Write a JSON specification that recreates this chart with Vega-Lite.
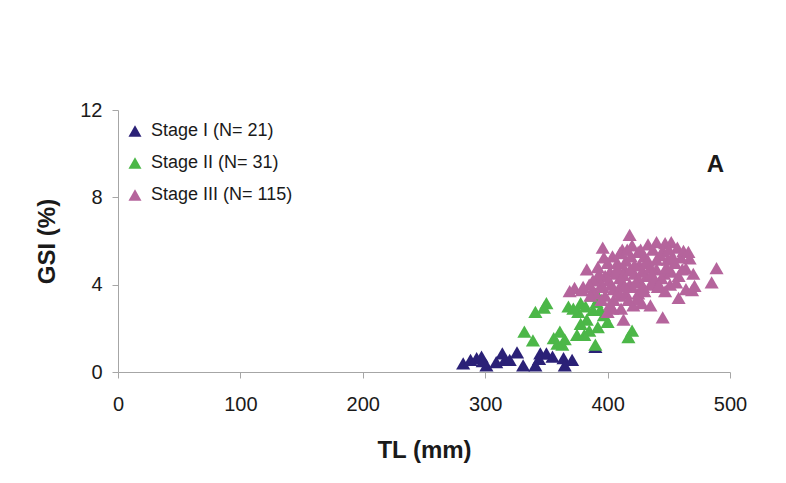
{
  "$schema": "https://vega.github.io/schema/vega-lite/v6.json",
  "autosize": "none",
  "width": 612,
  "height": 262,
  "padding": {"left": 118, "top": 110, "right": 56, "bottom": 111},
  "background": "white",
  "config": {
    "font": "Liberation Sans",
    "view": {"stroke": null},
    "axis": {
      "grid": false,
      "domainColor": "#a6a6a6",
      "tickColor": "#a6a6a6",
      "tickSize": 6,
      "labelFontSize": 20,
      "labelColor": "#1a1a1a",
      "labelFlush": false,
      "titleFontSize": 24,
      "titleFontWeight": "bold",
      "titleColor": "#1a1a1a"
    }
  },
  "datasets": {
    "pts": [
      {"stage": "Stage I (N= 21)", "tl": 282, "gsi": 0.4},
      {"stage": "Stage I (N= 21)", "tl": 288, "gsi": 0.55},
      {"stage": "Stage I (N= 21)", "tl": 293, "gsi": 0.64},
      {"stage": "Stage I (N= 21)", "tl": 297, "gsi": 0.7},
      {"stage": "Stage I (N= 21)", "tl": 301, "gsi": 0.3},
      {"stage": "Stage I (N= 21)", "tl": 298, "gsi": 0.5},
      {"stage": "Stage I (N= 21)", "tl": 314, "gsi": 0.85},
      {"stage": "Stage I (N= 21)", "tl": 316, "gsi": 0.55},
      {"stage": "Stage I (N= 21)", "tl": 320, "gsi": 0.55},
      {"stage": "Stage I (N= 21)", "tl": 326, "gsi": 0.9},
      {"stage": "Stage I (N= 21)", "tl": 331, "gsi": 0.3},
      {"stage": "Stage I (N= 21)", "tl": 341, "gsi": 0.3},
      {"stage": "Stage I (N= 21)", "tl": 345, "gsi": 0.85},
      {"stage": "Stage I (N= 21)", "tl": 350, "gsi": 0.85},
      {"stage": "Stage I (N= 21)", "tl": 355, "gsi": 0.7},
      {"stage": "Stage I (N= 21)", "tl": 364, "gsi": 0.64},
      {"stage": "Stage I (N= 21)", "tl": 365, "gsi": 0.3},
      {"stage": "Stage I (N= 21)", "tl": 371, "gsi": 0.55},
      {"stage": "Stage I (N= 21)", "tl": 390, "gsi": 1.15},
      {"stage": "Stage I (N= 21)", "tl": 344, "gsi": 0.6},
      {"stage": "Stage I (N= 21)", "tl": 309, "gsi": 0.45},
      {"stage": "Stage II (N= 31)", "tl": 350, "gsi": 3.15},
      {"stage": "Stage II (N= 31)", "tl": 348, "gsi": 2.95},
      {"stage": "Stage II (N= 31)", "tl": 341, "gsi": 2.75},
      {"stage": "Stage II (N= 31)", "tl": 332, "gsi": 1.85},
      {"stage": "Stage II (N= 31)", "tl": 339, "gsi": 1.45},
      {"stage": "Stage II (N= 31)", "tl": 361, "gsi": 1.85},
      {"stage": "Stage II (N= 31)", "tl": 356, "gsi": 1.55},
      {"stage": "Stage II (N= 31)", "tl": 363, "gsi": 1.25},
      {"stage": "Stage II (N= 31)", "tl": 368, "gsi": 3.0},
      {"stage": "Stage II (N= 31)", "tl": 378, "gsi": 3.15},
      {"stage": "Stage II (N= 31)", "tl": 376, "gsi": 2.75},
      {"stage": "Stage II (N= 31)", "tl": 383, "gsi": 2.4},
      {"stage": "Stage II (N= 31)", "tl": 388, "gsi": 2.85},
      {"stage": "Stage II (N= 31)", "tl": 375, "gsi": 1.7},
      {"stage": "Stage II (N= 31)", "tl": 381, "gsi": 1.7},
      {"stage": "Stage II (N= 31)", "tl": 392, "gsi": 2.05},
      {"stage": "Stage II (N= 31)", "tl": 400, "gsi": 2.3},
      {"stage": "Stage II (N= 31)", "tl": 420, "gsi": 1.9},
      {"stage": "Stage II (N= 31)", "tl": 417, "gsi": 1.6},
      {"stage": "Stage II (N= 31)", "tl": 390, "gsi": 1.25},
      {"stage": "Stage II (N= 31)", "tl": 391, "gsi": 3.2},
      {"stage": "Stage II (N= 31)", "tl": 388, "gsi": 3.5},
      {"stage": "Stage II (N= 31)", "tl": 393, "gsi": 3.4},
      {"stage": "Stage II (N= 31)", "tl": 372, "gsi": 2.9},
      {"stage": "Stage II (N= 31)", "tl": 378, "gsi": 2.2},
      {"stage": "Stage II (N= 31)", "tl": 365, "gsi": 1.5},
      {"stage": "Stage II (N= 31)", "tl": 385, "gsi": 1.9},
      {"stage": "Stage II (N= 31)", "tl": 397, "gsi": 2.6},
      {"stage": "Stage II (N= 31)", "tl": 382, "gsi": 3.0},
      {"stage": "Stage II (N= 31)", "tl": 359, "gsi": 1.3},
      {"stage": "Stage II (N= 31)", "tl": 394, "gsi": 2.85},
      {"stage": "Stage III (N= 115)", "tl": 418, "gsi": 6.28},
      {"stage": "Stage III (N= 115)", "tl": 396, "gsi": 5.7},
      {"stage": "Stage III (N= 115)", "tl": 489, "gsi": 4.76},
      {"stage": "Stage III (N= 115)", "tl": 485, "gsi": 4.1},
      {"stage": "Stage III (N= 115)", "tl": 445, "gsi": 2.5},
      {"stage": "Stage III (N= 115)", "tl": 413, "gsi": 2.4},
      {"stage": "Stage III (N= 115)", "tl": 458, "gsi": 3.4},
      {"stage": "Stage III (N= 115)", "tl": 469, "gsi": 3.75},
      {"stage": "Stage III (N= 115)", "tl": 464, "gsi": 3.8},
      {"stage": "Stage III (N= 115)", "tl": 471, "gsi": 3.95},
      {"stage": "Stage III (N= 115)", "tl": 470, "gsi": 4.5},
      {"stage": "Stage III (N= 115)", "tl": 467, "gsi": 5.2},
      {"stage": "Stage III (N= 115)", "tl": 464, "gsi": 4.75},
      {"stage": "Stage III (N= 115)", "tl": 451, "gsi": 4.0},
      {"stage": "Stage III (N= 115)", "tl": 433, "gsi": 5.85},
      {"stage": "Stage III (N= 115)", "tl": 440, "gsi": 5.95},
      {"stage": "Stage III (N= 115)", "tl": 447, "gsi": 5.9},
      {"stage": "Stage III (N= 115)", "tl": 452, "gsi": 5.95},
      {"stage": "Stage III (N= 115)", "tl": 457, "gsi": 5.7},
      {"stage": "Stage III (N= 115)", "tl": 460, "gsi": 5.25},
      {"stage": "Stage III (N= 115)", "tl": 443, "gsi": 5.35},
      {"stage": "Stage III (N= 115)", "tl": 449, "gsi": 5.15},
      {"stage": "Stage III (N= 115)", "tl": 455, "gsi": 5.0},
      {"stage": "Stage III (N= 115)", "tl": 435, "gsi": 4.0},
      {"stage": "Stage III (N= 115)", "tl": 425, "gsi": 3.6},
      {"stage": "Stage III (N= 115)", "tl": 428, "gsi": 3.15},
      {"stage": "Stage III (N= 115)", "tl": 435, "gsi": 3.05},
      {"stage": "Stage III (N= 115)", "tl": 421, "gsi": 3.05},
      {"stage": "Stage III (N= 115)", "tl": 404, "gsi": 2.9},
      {"stage": "Stage III (N= 115)", "tl": 400, "gsi": 2.75},
      {"stage": "Stage III (N= 115)", "tl": 383, "gsi": 4.7},
      {"stage": "Stage III (N= 115)", "tl": 373, "gsi": 3.85},
      {"stage": "Stage III (N= 115)", "tl": 379, "gsi": 3.75},
      {"stage": "Stage III (N= 115)", "tl": 369, "gsi": 3.7},
      {"stage": "Stage III (N= 115)", "tl": 388, "gsi": 3.75},
      {"stage": "Stage III (N= 115)", "tl": 392, "gsi": 4.3},
      {"stage": "Stage III (N= 115)", "tl": 412, "gsi": 5.6},
      {"stage": "Stage III (N= 115)", "tl": 425, "gsi": 5.5},
      {"stage": "Stage III (N= 115)", "tl": 430, "gsi": 5.3},
      {"stage": "Stage III (N= 115)", "tl": 437, "gsi": 5.6},
      {"stage": "Stage III (N= 115)", "tl": 462, "gsi": 5.55},
      {"stage": "Stage III (N= 115)", "tl": 445, "gsi": 5.55},
      {"stage": "Stage III (N= 115)", "tl": 426, "gsi": 4.9},
      {"stage": "Stage III (N= 115)", "tl": 440, "gsi": 4.7},
      {"stage": "Stage III (N= 115)", "tl": 446, "gsi": 4.5},
      {"stage": "Stage III (N= 115)", "tl": 452, "gsi": 4.6},
      {"stage": "Stage III (N= 115)", "tl": 458, "gsi": 4.4},
      {"stage": "Stage III (N= 115)", "tl": 432, "gsi": 4.4},
      {"stage": "Stage III (N= 115)", "tl": 438, "gsi": 4.2},
      {"stage": "Stage III (N= 115)", "tl": 444, "gsi": 4.3},
      {"stage": "Stage III (N= 115)", "tl": 418, "gsi": 4.0},
      {"stage": "Stage III (N= 115)", "tl": 422, "gsi": 4.5},
      {"stage": "Stage III (N= 115)", "tl": 415, "gsi": 5.1},
      {"stage": "Stage III (N= 115)", "tl": 408, "gsi": 5.0},
      {"stage": "Stage III (N= 115)", "tl": 402, "gsi": 4.6},
      {"stage": "Stage III (N= 115)", "tl": 398, "gsi": 4.4},
      {"stage": "Stage III (N= 115)", "tl": 395, "gsi": 4.0},
      {"stage": "Stage III (N= 115)", "tl": 390, "gsi": 3.6},
      {"stage": "Stage III (N= 115)", "tl": 398, "gsi": 3.5},
      {"stage": "Stage III (N= 115)", "tl": 405, "gsi": 3.8},
      {"stage": "Stage III (N= 115)", "tl": 410, "gsi": 4.3},
      {"stage": "Stage III (N= 115)", "tl": 414, "gsi": 4.7},
      {"stage": "Stage III (N= 115)", "tl": 419, "gsi": 5.3},
      {"stage": "Stage III (N= 115)", "tl": 422, "gsi": 4.9},
      {"stage": "Stage III (N= 115)", "tl": 428, "gsi": 4.6},
      {"stage": "Stage III (N= 115)", "tl": 431, "gsi": 5.0},
      {"stage": "Stage III (N= 115)", "tl": 435, "gsi": 4.8},
      {"stage": "Stage III (N= 115)", "tl": 405, "gsi": 3.3},
      {"stage": "Stage III (N= 115)", "tl": 410, "gsi": 3.5},
      {"stage": "Stage III (N= 115)", "tl": 415, "gsi": 3.6},
      {"stage": "Stage III (N= 115)", "tl": 420, "gsi": 3.9},
      {"stage": "Stage III (N= 115)", "tl": 426, "gsi": 4.2},
      {"stage": "Stage III (N= 115)", "tl": 412, "gsi": 4.1},
      {"stage": "Stage III (N= 115)", "tl": 407, "gsi": 4.5},
      {"stage": "Stage III (N= 115)", "tl": 401, "gsi": 4.2},
      {"stage": "Stage III (N= 115)", "tl": 396, "gsi": 3.9},
      {"stage": "Stage III (N= 115)", "tl": 393, "gsi": 4.5},
      {"stage": "Stage III (N= 115)", "tl": 388, "gsi": 4.2},
      {"stage": "Stage III (N= 115)", "tl": 385, "gsi": 4.0},
      {"stage": "Stage III (N= 115)", "tl": 400, "gsi": 5.0},
      {"stage": "Stage III (N= 115)", "tl": 404, "gsi": 5.3},
      {"stage": "Stage III (N= 115)", "tl": 410, "gsi": 5.45},
      {"stage": "Stage III (N= 115)", "tl": 416, "gsi": 5.6},
      {"stage": "Stage III (N= 115)", "tl": 420, "gsi": 5.8},
      {"stage": "Stage III (N= 115)", "tl": 427, "gsi": 5.6},
      {"stage": "Stage III (N= 115)", "tl": 433, "gsi": 5.1},
      {"stage": "Stage III (N= 115)", "tl": 440, "gsi": 5.15},
      {"stage": "Stage III (N= 115)", "tl": 448, "gsi": 4.8},
      {"stage": "Stage III (N= 115)", "tl": 453, "gsi": 5.3},
      {"stage": "Stage III (N= 115)", "tl": 441, "gsi": 3.9},
      {"stage": "Stage III (N= 115)", "tl": 447, "gsi": 3.7},
      {"stage": "Stage III (N= 115)", "tl": 430, "gsi": 3.7},
      {"stage": "Stage III (N= 115)", "tl": 424, "gsi": 3.35},
      {"stage": "Stage III (N= 115)", "tl": 417, "gsi": 3.3},
      {"stage": "Stage III (N= 115)", "tl": 411, "gsi": 2.9},
      {"stage": "Stage III (N= 115)", "tl": 402, "gsi": 3.1},
      {"stage": "Stage III (N= 115)", "tl": 395, "gsi": 3.3},
      {"stage": "Stage III (N= 115)", "tl": 386, "gsi": 3.5},
      {"stage": "Stage III (N= 115)", "tl": 380, "gsi": 3.9},
      {"stage": "Stage III (N= 115)", "tl": 392, "gsi": 4.8},
      {"stage": "Stage III (N= 115)", "tl": 397, "gsi": 5.25},
      {"stage": "Stage III (N= 115)", "tl": 408, "gsi": 4.75},
      {"stage": "Stage III (N= 115)", "tl": 413, "gsi": 4.45},
      {"stage": "Stage III (N= 115)", "tl": 418, "gsi": 4.65},
      {"stage": "Stage III (N= 115)", "tl": 423, "gsi": 4.1},
      {"stage": "Stage III (N= 115)", "tl": 429, "gsi": 3.9},
      {"stage": "Stage III (N= 115)", "tl": 436, "gsi": 4.5},
      {"stage": "Stage III (N= 115)", "tl": 442, "gsi": 4.0},
      {"stage": "Stage III (N= 115)", "tl": 456, "gsi": 4.1},
      {"stage": "Stage III (N= 115)", "tl": 461, "gsi": 4.7},
      {"stage": "Stage III (N= 115)", "tl": 466, "gsi": 5.5},
      {"stage": "Stage III (N= 115)", "tl": 450, "gsi": 5.6},
      {"stage": "Stage III (N= 115)", "tl": 403, "gsi": 4.0},
      {"stage": "Stage III (N= 115)", "tl": 409, "gsi": 3.7},
      {"stage": "Stage III (N= 115)", "tl": 414, "gsi": 3.95}
    ],
    "ann": [{"label": "A", "tl": 488, "gsi": 9.5}]
  },
  "layer": [
    {
      "data": {"name": "pts"},
      "mark": {"type": "point", "shape": "triangle-up", "filled": true, "opacity": 1, "size": 200},
      "encoding": {
        "x": {
          "field": "tl", "type": "quantitative",
          "scale": {"domain": [0, 500], "nice": false, "zero": true},
          "axis": {"values": [0, 100, 200, 300, 400, 500], "title": "TL (mm)", "labelPadding": 16, "titlePadding": 24}
        },
        "y": {
          "field": "gsi", "type": "quantitative",
          "scale": {"domain": [0, 12], "nice": false},
          "axis": {"values": [0, 4, 8, 12], "title": "GSI (%)", "labelPadding": 10, "titlePadding": 20}
        },
        "color": {
          "field": "stage", "type": "nominal",
          "scale": {
            "domain": ["Stage I (N= 21)", "Stage II (N= 31)", "Stage III (N= 115)"],
            "range": ["#2b2177", "#4cb748", "#b5649c"]
          },
          "legend": {
            "title": null,
            "orient": "none",
            "legendX": 8,
            "legendY": 12,
            "padding": 0,
            "symbolType": "triangle-up",
            "symbolSize": 170,
            "symbolStrokeWidth": 0,
            "labelFontSize": 18,
            "labelColor": "#1a1a1a",
            "labelOffset": 7,
            "rowPadding": 14
          }
        }
      }
    },
    {
      "data": {"name": "ann"},
      "mark": {"type": "text", "fontSize": 24, "fontWeight": "bold", "color": "#1a1a1a", "baseline": "middle", "align": "center"},
      "encoding": {
        "x": {"field": "tl", "type": "quantitative"},
        "y": {"field": "gsi", "type": "quantitative"},
        "text": {"field": "label"}
      }
    }
  ]
}
